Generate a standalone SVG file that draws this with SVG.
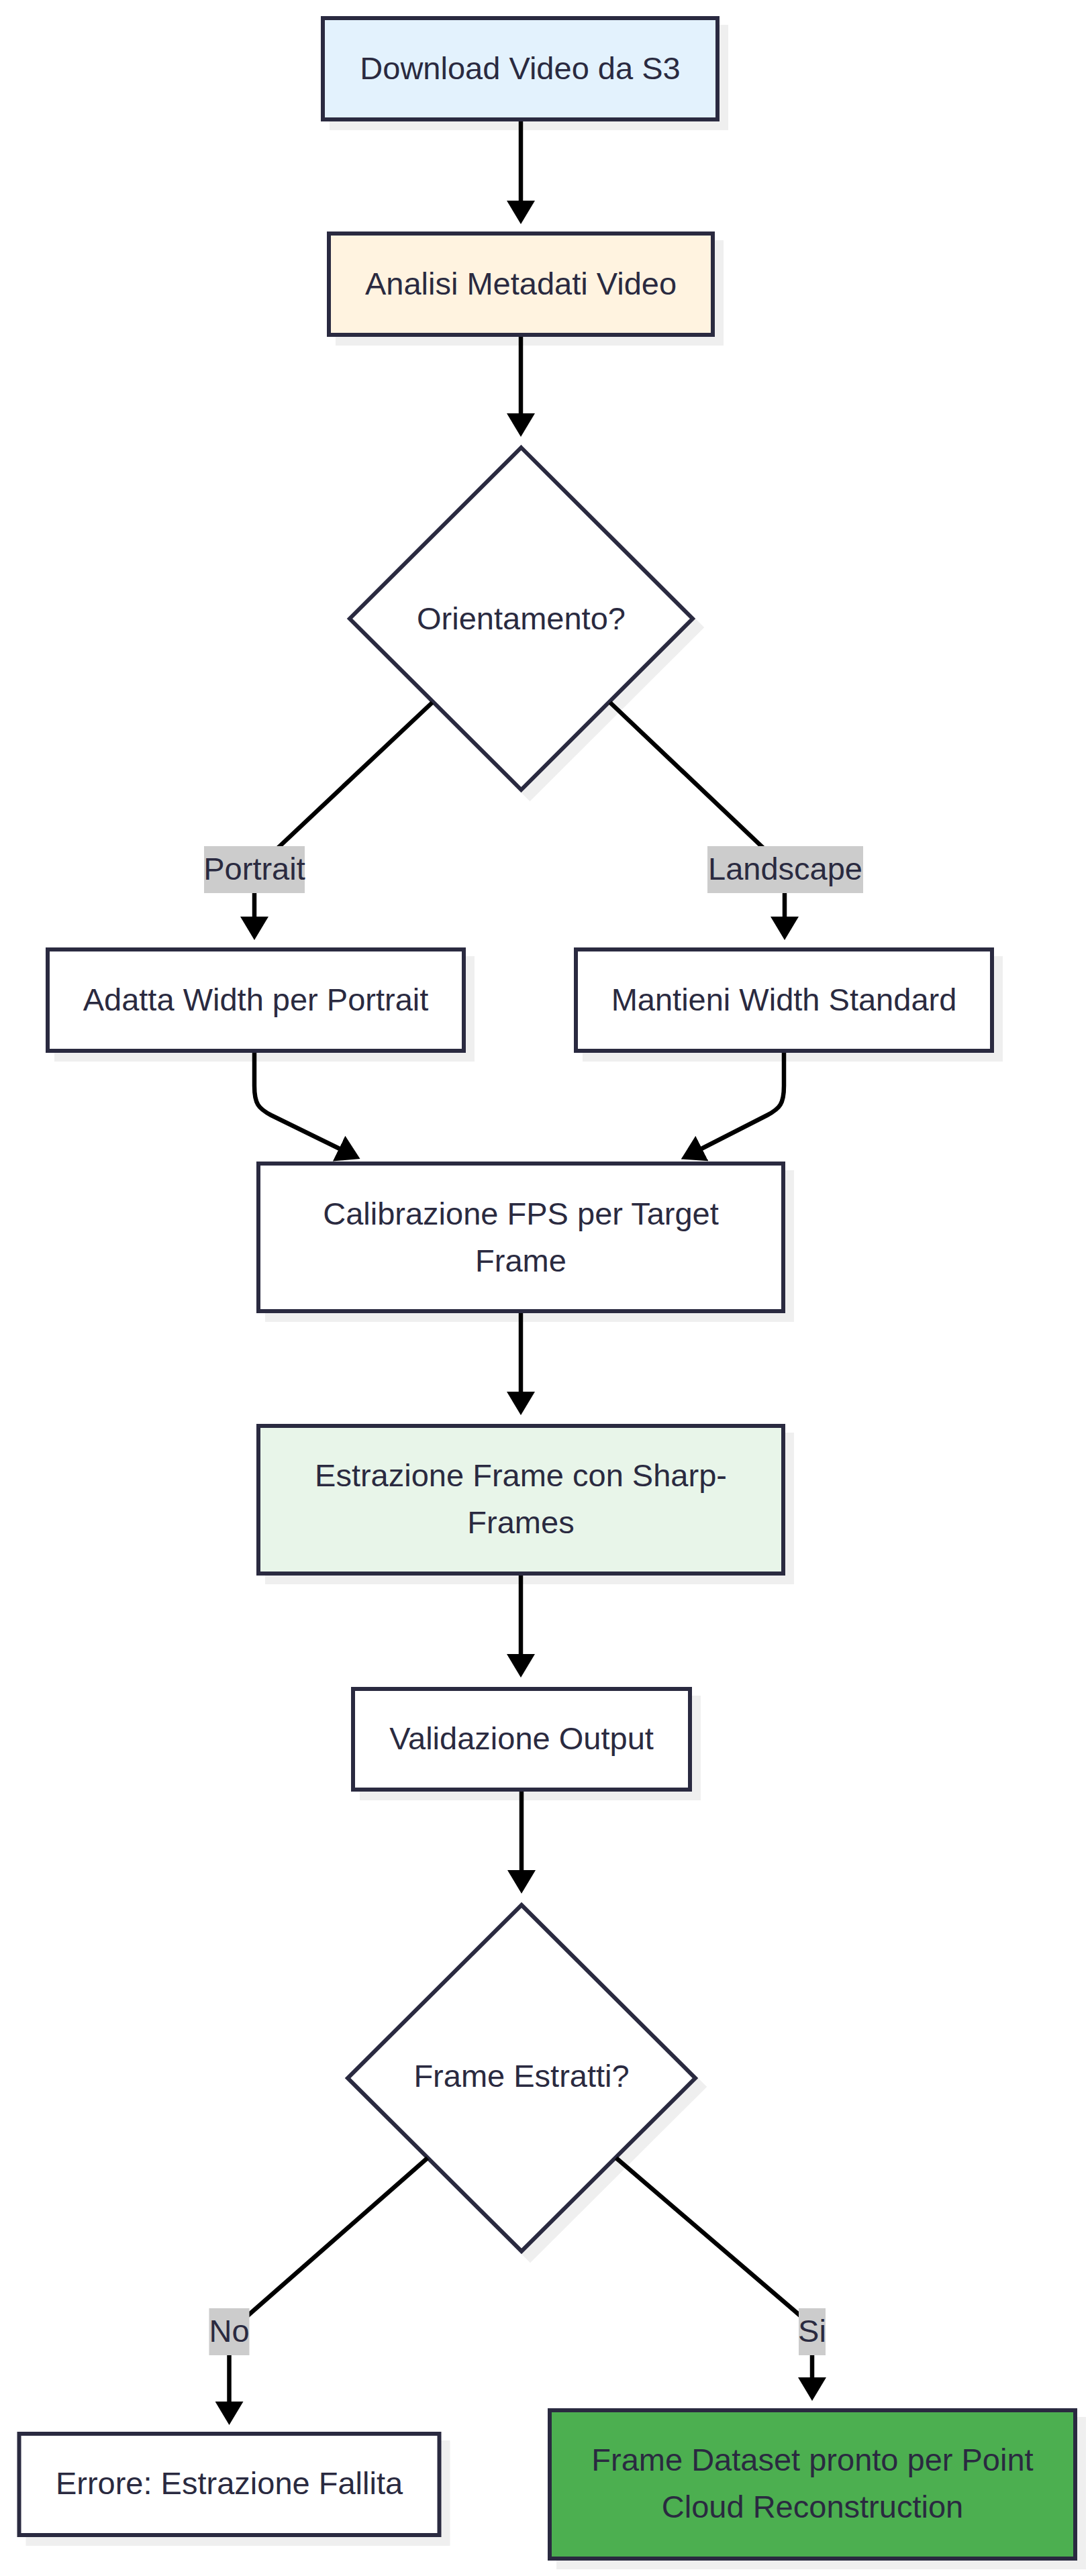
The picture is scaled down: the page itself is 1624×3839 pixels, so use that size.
<svg xmlns="http://www.w3.org/2000/svg" width="1624" height="3839" viewBox="0 0 1624 3839">
<defs>
<style>
.shape{stroke:#2a2a40;stroke-width:6;}
.sh{fill:#efefef;stroke:#efefef;stroke-width:6;}
.t{font-family:"Liberation Sans",Arial,Helvetica,sans-serif;font-size:47px;fill:#2a2a40;text-anchor:middle;}
.edge{fill:none;stroke:#000;stroke-width:6.5;}
.lblbg{fill:#cccccc;}
</style>
<marker id="ah" viewBox="0 0 35 42" refX="1" refY="21" markerWidth="35" markerHeight="42" markerUnits="userSpaceOnUse" orient="auto">
<path d="M0,0 L35,21 L0,42 z" fill="#000"/>
</marker>
</defs>
<rect x="0" y="0" width="1624" height="3839" fill="#ffffff"/>

<g id="node-download">
<rect class="sh" x="494" y="40" width="588" height="151"/>
<rect class="shape" x="481" y="27" width="588" height="151" fill="#e3f2fd"/>
<text class="t" x="775" y="118">Download Video da S3</text>
</g>

<g id="node-analisi">
<rect class="sh" x="503" y="361" width="572" height="151"/>
<rect class="shape" x="490" y="348" width="572" height="151" fill="#fff3e0"/>
<text class="t" x="776" y="439">Analisi Metadati Video</text>
</g>

<g id="node-orientamento">
<polygon class="sh" points="789.5,680 1045,935 789.5,1190 534,935"/>
<polygon class="shape" points="776.5,667 1032,922 776.5,1177 521,922" fill="#ffffff"/>
<text class="t" x="776.5" y="938">Orientamento?</text>
</g>

<g id="node-adatta">
<rect class="sh" x="84" y="1428" width="620" height="151"/>
<rect class="shape" x="71" y="1415" width="620" height="151" fill="#ffffff"/>
<text class="t" x="381" y="1506">Adatta Width per Portrait</text>
</g>

<g id="node-mantieni">
<rect class="sh" x="871" y="1428" width="620" height="151"/>
<rect class="shape" x="858" y="1415" width="620" height="151" fill="#ffffff"/>
<text class="t" x="1168" y="1506">Mantieni Width Standard</text>
</g>

<g id="node-calibrazione">
<rect class="sh" x="398" y="1747" width="782" height="220"/>
<rect class="shape" x="385" y="1734" width="782" height="220" fill="#ffffff"/>
<text class="t" x="776" y="1825">Calibrazione FPS per Target</text>
<text class="t" x="776" y="1895">Frame</text>
</g>

<g id="node-estrazione">
<rect class="sh" x="398" y="2138" width="782" height="220"/>
<rect class="shape" x="385" y="2125" width="782" height="220" fill="#e8f5e9"/>
<text class="t" x="776" y="2215">Estrazione Frame con Sharp-</text>
<text class="t" x="776" y="2285">Frames</text>
</g>

<g id="node-validazione">
<rect class="sh" x="539" y="2530" width="502" height="150"/>
<rect class="shape" x="526" y="2517" width="502" height="150" fill="#ffffff"/>
<text class="t" x="777" y="2607">Validazione Output</text>
</g>

<g id="node-estratti">
<polygon class="sh" points="790,2852 1049,3110 790,3368 531,3110"/>
<polygon class="shape" points="777,2839 1036,3097 777,3355 518,3097" fill="#ffffff"/>
<text class="t" x="777" y="3110">Frame Estratti?</text>
</g>

<g id="node-errore">
<rect class="sh" x="41.5" y="3640" width="626" height="151"/>
<rect class="shape" x="28.5" y="3627" width="626" height="151" fill="#ffffff"/>
<text class="t" x="341.5" y="3717">Errore: Estrazione Fallita</text>
</g>

<g id="node-dataset">
<rect class="sh" x="832" y="3605" width="783" height="221"/>
<rect class="shape" x="819" y="3592" width="783" height="221" fill="#4caf50"/>
<text class="t" x="1210.5" y="3682">Frame Dataset pronto per Point</text>
<text class="t" x="1210.5" y="3752">Cloud Reconstruction</text>
</g>

<g id="edges">
<path class="edge" marker-end="url(#ah)" d="M776,181 L776,300"/>
<path class="edge" marker-end="url(#ah)" d="M776,502 L776,617"/>
<path class="edge" marker-end="url(#ah)" d="M644,1047 L404,1273 Q379,1296 379,1320 L379,1367"/>
<path class="edge" marker-end="url(#ah)" d="M909,1047 L1146,1272 Q1169,1296 1169,1320 L1169,1367"/>
<path class="edge" marker-end="url(#ah)" d="M379,1569 L379,1618 C379,1645 385,1652 404,1662 L506,1712"/>
<path class="edge" marker-end="url(#ah)" d="M1168,1569 L1168,1618 C1168,1645 1162,1652 1143,1662 L1045,1712"/>
<path class="edge" marker-end="url(#ah)" d="M776,1957 L776,2075"/>
<path class="edge" marker-end="url(#ah)" d="M776,2348 L776,2466"/>
<path class="edge" marker-end="url(#ah)" d="M777,2670 L777,2788"/>
<path class="edge" marker-end="url(#ah)" d="M637,3216 L360,3459 Q341.5,3475 341.5,3495 L341.5,3580"/>
<path class="edge" marker-end="url(#ah)" d="M918,3216 L1198,3456 Q1210,3467 1210,3485 L1210,3544"/>
</g>

<g id="edge-labels">
<g id="lbl-portrait"><rect class="lblbg" x="304" y="1261" width="150" height="70"/><text class="t" x="379" y="1311">Portrait</text></g>
<g id="lbl-landscape"><rect class="lblbg" x="1054" y="1261" width="232" height="70"/><text class="t" x="1170" y="1311">Landscape</text></g>
<g id="lbl-no"><rect class="lblbg" x="311.5" y="3440" width="60" height="70"/><text class="t" x="341.5" y="3490">No</text></g>
<g id="lbl-si"><rect class="lblbg" x="1190" y="3440" width="40" height="70"/><text class="t" x="1210" y="3490">Si</text></g>
</g>
</svg>
